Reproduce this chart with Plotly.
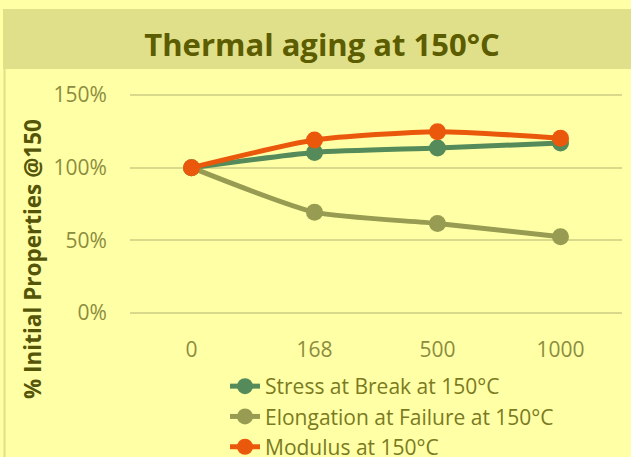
import plotly.graph_objects as go

categories = ["0", "168", "500", "1000"]
stress = [100, 110.5, 113.5, 117]
elongation = [100, 69.4, 61.6, 52.5]
modulus = [100, 119, 124.8, 120.3]
series_names = ["Stress at Break at 150°C", "Elongation at Failure at 150°C", "Modulus at 150°C"]
y_ticks = [0, 50, 100, 150]
y_tick_labels = ["0%", "50%", "100%", "150%"]

W, H = 631, 457
L, R, T, B = 130, 9, 94, 143
PW, PH = W - L - R, H - T - B

def px(x):
    return (x - L) / PW

def py(y):
    return (H - B - y) / PH

colors = ["#558B5A", "#989C52", "#EA580C"]
font = "Open Sans"

fig = go.Figure()
for name, vals, c in zip(series_names, [stress, elongation, modulus], colors):
    fig.add_trace(go.Scatter(
        x=categories, y=vals, name=name, mode="lines+markers",
        line=dict(color=c, width=5, shape="spline", smoothing=0.6),
        marker=dict(color=c, size=17),
        cliponaxis=False,
    ))

fig.update_layout(
    width=W, height=H,
    margin=dict(l=L, r=R, t=T, b=B, pad=0, autoexpand=False),
    paper_bgcolor="#FFFFA5",
    plot_bgcolor="#FFFFA5",
    showlegend=True,
    title=dict(text="<b>Thermal aging at 150°C</b>", x=322 / W, xanchor="center",
               y=1 - 45 / H, yanchor="middle",
               font=dict(family=font, size=31, color="#5C5C00")),
    legend=dict(x=px(225), y=py(366), xanchor="left", yanchor="top",
                bgcolor="rgba(0,0,0,0)",
                font=dict(family=font, size=21, color="#7A7A22"),
                tracegroupgap=0),
    xaxis=dict(type="category", range=[-0.5, 3.5], showgrid=False, zeroline=False,
               showline=False, ticks="outside", ticklen=17, tickcolor="rgba(0,0,0,0)",
               automargin=False,
               tickfont=dict(family=font, size=21, color="#8C8C40")),
    yaxis=dict(range=[-0.7, 150.7], tickvals=y_ticks, ticktext=y_tick_labels,
               showgrid=True, gridcolor="#D9D98C", gridwidth=1.5, zeroline=False,
               showline=False, ticks="outside", ticklen=18, tickcolor="rgba(0,0,0,0)",
               automargin=False,
               tickfont=dict(family=font, size=21, color="#8C8C40")),
    shapes=[
        dict(type="rect", xref="paper", yref="paper", x0=px(3), x1=px(W), y0=py(69), y1=py(9),
             fillcolor="#E0E08A", line=dict(width=0), layer="below"),
        dict(type="rect", xref="paper", yref="paper", x0=px(3.5), x1=px(5.5), y0=py(H), y1=py(69),
             fillcolor="#E0E08A", line=dict(width=0), layer="below"),
    ],
    annotations=[
        dict(text="<b>% Initial Properties @150</b>", xref="paper", yref="paper",
             x=px(32), y=py(259), xanchor="center", yanchor="middle", textangle=-90,
             showarrow=False, font=dict(family=font, size=22.5, color="#55550A")),
    ],
)

fig.write_html("out.html", config={"displayModeBar": False},
               post_script="document.body.style.margin='0';document.body.style.background='#FFFFA5';")
